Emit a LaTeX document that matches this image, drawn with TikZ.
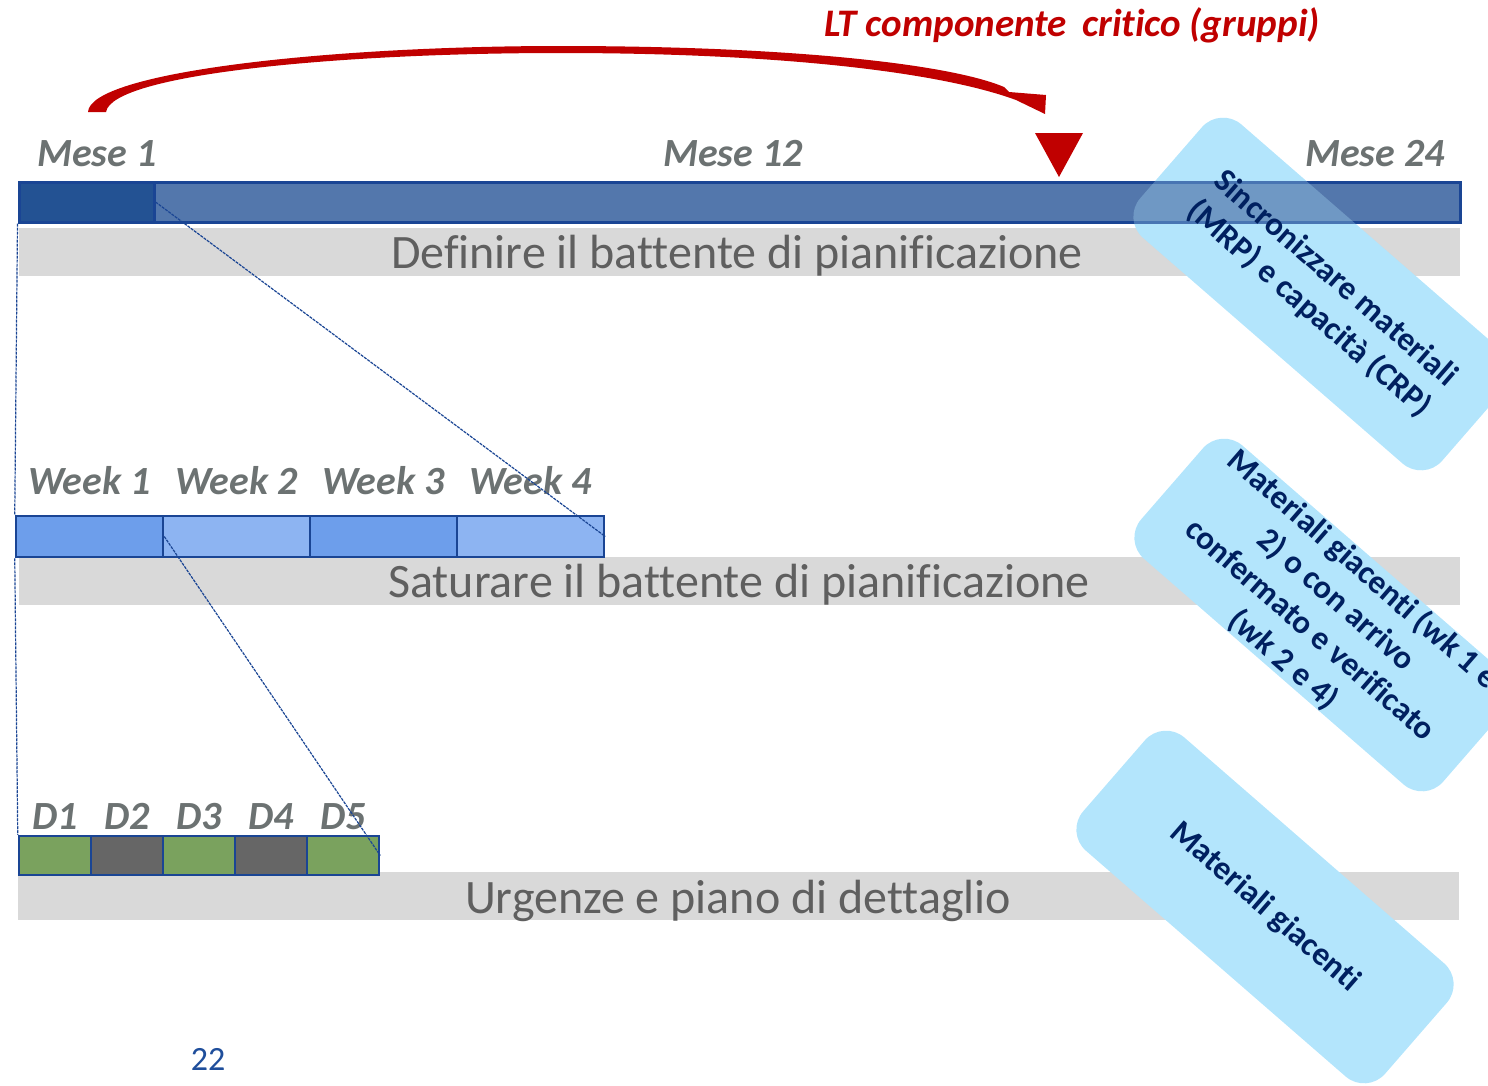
\documentclass[tikz,border=0pt]{standalone}
\usepackage{fontspec}
\setmainfont{Carlito}[Ligatures=CommonOff]
\usetikzlibrary{positioning}

\definecolor{barblue}{RGB}{83,119,172}
\definecolor{bardark}{RGB}{35,82,147}
\definecolor{lineblue}{RGB}{26,69,148}
\definecolor{wkdark}{RGB}{109,158,235}
\definecolor{wklight}{RGB}{141,180,242}
\definecolor{daygreen}{RGB}{122,162,94}
\definecolor{daygray}{RGB}{102,102,102}
\definecolor{bandgray}{RGB}{217,217,217}
\definecolor{bandtext}{RGB}{95,95,95}
\definecolor{labelgray}{RGB}{108,114,114}
\definecolor{critred}{RGB}{192,0,0}
\definecolor{memobg}{RGB}{179,229,252}
\definecolor{memotext}{RGB}{0,32,96}
\definecolor{pagenum}{RGB}{31,78,155}

\tikzset{
    band/.style={fill=bandgray, minimum width=1441pt, minimum height=48pt, inner sep=0pt},
    bandlbl/.style={text=bandtext, font=\fontsize{48}{56}\selectfont, inner sep=0pt, anchor=base},
    seg/.style={draw=lineblue, line width=2.5pt, minimum height=41pt, inner sep=0pt},
    timelbl/.style={text=labelgray, font=\fontsize{40}{46}\selectfont\bfseries\itshape, inner sep=0pt, anchor=base},
    memo/.style={fill=memobg, rounded corners=28pt, minimum width=400pt, minimum height=150pt,
        rotate=-41, align=center, text=memotext, font=\fontsize{33}{40}\selectfont\bfseries, inner sep=0pt},
    zoomline/.style={draw=lineblue, line width=1.2pt, dash pattern=on 3pt off 1pt}
}

\begin{document}
\begin{tikzpicture}[x=1pt,y=-1pt]
            \useasboundingbox (0,0) rectangle (1488,1085);
            \clip (0,0) rectangle (1488,1085);

            % bands
            \node[band] (band1) at (739.5,252) {};
            \node[band] (band2) at (739.5,581) {};
            \node[band] (band3) at (738.5,895.5) {};
            \node[bandlbl] (txt1) at (737,268) {Definire il battente di pianificazione};
            \node[bandlbl] (txt2) at (739,597) {Saturare il battente di pianificazione};
            \node[bandlbl] (txt3) at (738,913) {Urgenze e piano di dettaglio};

            \node[memo] (syncbg) at (1322,294) {};

            % 24 months
            \node[draw=lineblue, line width=3pt, fill=barblue, minimum width=1441pt, minimum height=40pt, inner sep=0pt]
                (months) at (739.5,202) {};
            \node[draw=lineblue, line width=3pt, fill=bardark, minimum width=135pt, minimum height=40pt, inner sep=0pt]
                (m1) at (86.5,202) {};
            \node[timelbl] (lm1) at (97,166) {Mese 1};
            \node[timelbl] (lm12) at (733,166) {Mese 12};
            \node[timelbl] (lm24) at (1375,166) {Mese 24};

            \node[memo, fill opacity=0.3, text opacity=1] (sync) at (1322,294)
                {Sincronizzare materiali\\(MRP) e capacità (CRP)};

            % lead time
            \fill[critred] (88,112) .. controls (90,72) and (330,46) .. (560,46)
                .. controls (790,46) and (950,64) .. (1004,87) -- (1009,92) -- (1046,95) -- (1045,114)
                -- (1016,100) .. controls (940,72) and (780,53) .. (560,53)
                .. controls (340,53) and (112,74) .. (106,112) -- cycle;
            \fill[critred] (1035,133) -- (1083,133) -- (1059,177) -- cycle;
            \node[text=critred, font=\fontsize{39}{44}\selectfont\bfseries\itshape, anchor=base]
                (lt) at (1072,36) {LT componente\, critico (gruppi)};

            % 4 weeks
            \node[seg, fill=wkdark, minimum width=147pt] (w1) at (89.5,536.5) {};
            \node[seg, fill=wklight, minimum width=147pt] (w2) at (236.5,536.5) {};
            \node[seg, fill=wkdark, minimum width=147pt] (w3) at (383.5,536.5) {};
            \node[seg, fill=wklight, minimum width=147pt] (w4) at (530.5,536.5) {};
            \node[timelbl, above=20pt of w1.north, anchor=base] (lw1) {Week 1};
            \node[timelbl, above=20pt of w2.north, anchor=base] (lw2) {Week 2};
            \node[timelbl, above=20pt of w3.north, anchor=base] (lw3) {Week 3};
            \node[timelbl, above=20pt of w4.north, anchor=base] (lw4) {Week 4};

            % 5 days
            \node[seg, fill=daygreen, minimum width=72pt, minimum height=39pt] (d1) at (55,855.5) {};
            \node[seg, fill=daygray, minimum width=72pt, minimum height=39pt] (d2) at (127,855.5) {};
            \node[seg, fill=daygreen, minimum width=72pt, minimum height=39pt] (d3) at (199,855.5) {};
            \node[seg, fill=daygray, minimum width=72pt, minimum height=39pt] (d4) at (271,855.5) {};
            \node[seg, fill=daygreen, minimum width=72pt, minimum height=39pt] (d5) at (343,855.5) {};
            \node[timelbl, above=5pt of d1.north, anchor=base] (ld1) {D1};
            \node[timelbl, above=5pt of d2.north, anchor=base] (ld2) {D2};
            \node[timelbl, above=5pt of d3.north, anchor=base] (ld3) {D3};
            \node[timelbl, above=5pt of d4.north, anchor=base] (ld4) {D4};
            \node[timelbl, above=5pt of d5.north, anchor=base] (ld5) {D5};

            % zoom lines
            \draw[zoomline] (months.south west) -- (w1.north west);
            \draw[zoomline] (m1.east) -- (w4.east);
            \draw[zoomline] (w1.south west) -- (d1.north west);
            \draw[zoomline] (w1.east) -- (d5.east);

            \node[memo] (stock) at (1323,615)
                {Materiali giacenti (wk 1 e\\2) o con arrivo\\confermato e verificato\\(wk 2 e 4)};
            \node[memo] (onhand) at (1265,907) {Materiali giacenti};

            \node[text=pagenum, font=\fontsize{34}{40}\selectfont, anchor=base] (page) at (208,1070) {22};
\end{tikzpicture}
\end{document}
